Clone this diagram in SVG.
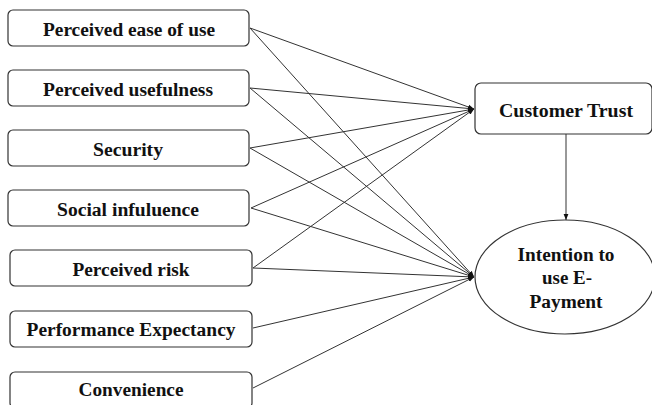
<svg xmlns="http://www.w3.org/2000/svg" width="652" height="405" viewBox="0 0 652 405">
<defs>
<marker id="ah" viewBox="0 0 10 10" refX="10" refY="5" markerWidth="6" markerHeight="6" markerUnits="userSpaceOnUse" orient="auto">
<path d="M0,1 L10,5 L0,9 z" fill="#111"/>
</marker>
</defs>
<style>
.box{fill:#fff;stroke:#333;stroke-width:1.2}
.t{font-family:'Liberation Serif','Times New Roman','DejaVu Serif',serif;font-weight:700;font-size:18px;fill:#111;text-anchor:middle}
.c line{stroke:#333;stroke-width:1;marker-end:url(#ah)}
</style>
<rect width="652" height="405" fill="#fff"/>
<g class="c" id="connectors">
<line x1="250" y1="28" x2="474" y2="109"/>
<line x1="250" y1="28" x2="474" y2="277"/>
<line x1="250" y1="88" x2="474" y2="109"/>
<line x1="250" y1="88" x2="474" y2="277"/>
<line x1="250" y1="148" x2="474" y2="109"/>
<line x1="250" y1="148" x2="474" y2="277"/>
<line x1="251" y1="208" x2="474" y2="109"/>
<line x1="251" y1="208" x2="474" y2="277"/>
<line x1="253" y1="268" x2="474" y2="109"/>
<line x1="253" y1="268" x2="474" y2="277"/>
<line x1="253" y1="328" x2="474" y2="277"/>
<line x1="253" y1="388" x2="474" y2="277"/>
<line x1="566" y1="134" x2="566" y2="220"/>
</g>
<g id="n1"><rect class="box" x="8" y="10" width="241" height="36" rx="5"/><text class="t" x="129" y="36" textLength="172" lengthAdjust="spacingAndGlyphs">Perceived ease of use</text></g>
<g id="n2"><rect class="box" x="8" y="70" width="241" height="36" rx="5"/><text class="t" x="128" y="96" textLength="170" lengthAdjust="spacingAndGlyphs">Perceived usefulness</text></g>
<g id="n3"><rect class="box" x="8" y="130" width="241" height="36" rx="5"/><text class="t" x="128" y="156" textLength="70" lengthAdjust="spacingAndGlyphs">Security</text></g>
<g id="n4"><rect class="box" x="8" y="190" width="241" height="36" rx="5"/><text class="t" x="128" y="216" textLength="142" lengthAdjust="spacingAndGlyphs">Social infuluence</text></g>
<g id="n5"><rect class="box" x="10" y="250" width="242" height="36" rx="5"/><text class="t" x="131" y="276" textLength="117" lengthAdjust="spacingAndGlyphs">Perceived risk</text></g>
<g id="n6"><rect class="box" x="10" y="311" width="242" height="36" rx="5"/><text class="t" x="131" y="336" textLength="209" lengthAdjust="spacingAndGlyphs">Performance Expectancy</text></g>
<g id="n7"><rect class="box" x="10" y="372" width="242" height="36" rx="5"/><text class="t" x="131" y="396" textLength="105" lengthAdjust="spacingAndGlyphs">Convenience</text></g>
<g id="trust"><rect class="box" x="475" y="83" width="177" height="51" rx="6"/><text class="t" x="566" y="117" textLength="134" lengthAdjust="spacingAndGlyphs">Customer Trust</text></g>
<g id="intention"><ellipse class="box" cx="565" cy="277" rx="90" ry="57"/>
<text class="t" x="566" y="261" textLength="97" lengthAdjust="spacingAndGlyphs">Intention to</text>
<text class="t" x="567" y="284" textLength="50" lengthAdjust="spacingAndGlyphs">use E-</text>
<text class="t" x="566" y="308" textLength="73" lengthAdjust="spacingAndGlyphs">Payment</text></g>
</svg>
